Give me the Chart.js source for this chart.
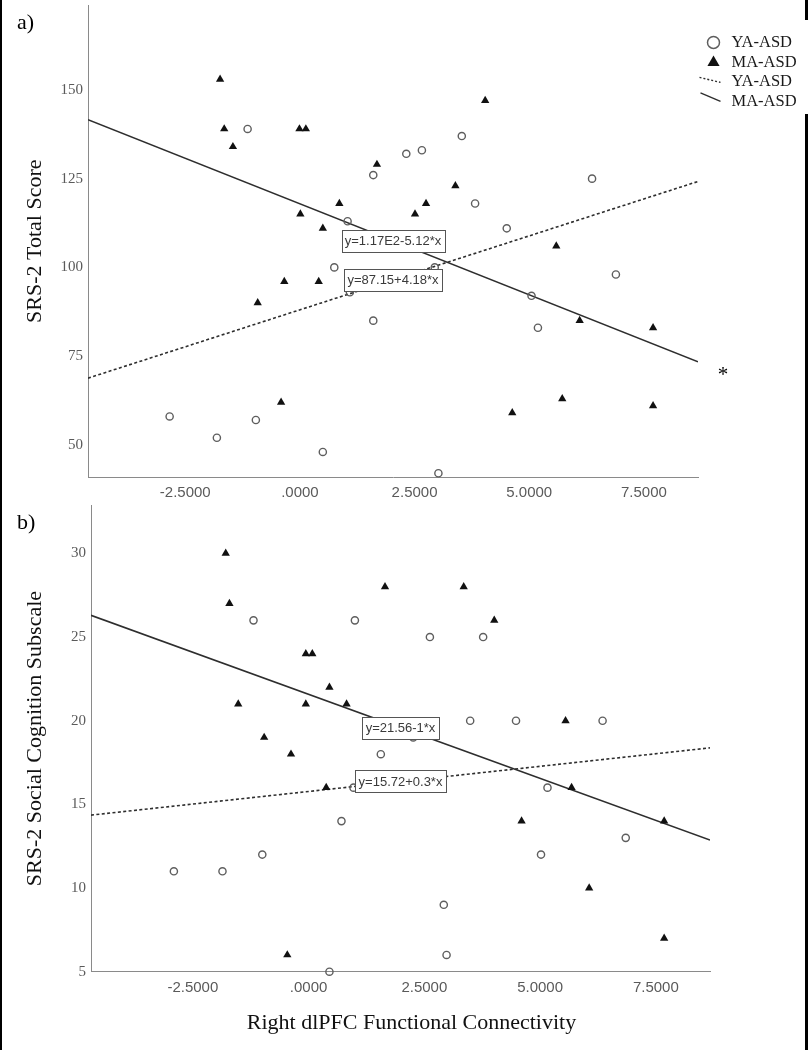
<!DOCTYPE html>
<html>
<head>
<meta charset="utf-8">
<title>SRS-2 vs Right dlPFC Functional Connectivity</title>
<script src="https://cdn.jsdelivr.net/npm/chart.js@4.4.1/dist/chart.umd.min.js"></script>
<style>
  html, body { margin: 0; padding: 0; background: #fff; }
  #page { position: relative; width: 808px; height: 1050px; overflow: hidden; background: #fff; }
  #page canvas { position: absolute; left: 0; }
  #chartA { top: 0; }
  #chartB { top: 500px; }
  .edge { position: absolute; background: #000; }
</style>
</head>
<body>
<div id="page">
  <canvas id="chartA" width="808" height="500" style="width:808px;height:500px"></canvas>
  <canvas id="chartB" width="808" height="550" style="width:808px;height:550px"></canvas>
  <div class="edge" style="left:0;top:0;width:2px;height:1050px"></div>
  <div class="edge" style="left:805px;top:0;width:3px;height:20px"></div>
  <div class="edge" style="left:805px;top:114px;width:3px;height:936px"></div>
</div>
<script>
// shared axis ticks
const xTickValues = [-2.5, 0, 2.5, 5, 7.5];
const xTickLabels = ['-2.5000', '.0000', '2.5000', '5.0000', '7.5000'];
const yTicksA = [50, 75, 100, 125, 150];
const yTicksB = [5, 10, 15, 20, 25, 30];
const groupNames = ['YA-ASD', 'MA-ASD'];

// a) SRS-2 Total Score
const yaXA = [-1.14, 1.60, 1.04, 3.53, 2.32, 2.66, 3.82, 6.37, 4.51, 0.75, 1.09, 1.60, -2.84, -1.81, -0.96, 0.50, 6.89, 5.05, 5.19, 3.02, 2.94];
const yaYA = [139, 126, 113, 137, 132, 133, 118, 125, 111, 100, 93, 85, 58, 52, 57, 48, 98, 92, 83, 42, 100];
const maXA = [-1.74, -1.65, -1.46, -0.01, 0.13, 1.68, 0.86, 0.01, 0.50, 4.04, 3.39, 2.75, 2.51, 5.59, -0.34, 0.41, -0.92, -0.41, 6.10, 7.70, 4.63, 5.72, 7.70];
const maYA = [153, 139, 134, 139, 139, 129, 118, 115, 111, 147, 123, 118, 115, 106, 96, 96, 90, 62, 85, 83, 59, 63, 61];
const yaFitXA = [-4.62, 8.68];
const yaFitYA = [68.8, 124.2];
const maFitXA = [-4.62, 8.68];
const maFitYA = [141.6, 73.4];
const fitTextA = ['y=87.15+4.18*x', 'y=1.17E2-5.12*x'];

// b) SRS-2 Social Cognition Subscale
const yaXB = [-1.19, 1.00, 1.56, 2.62, 3.77, 3.49, 4.48, 6.35, 2.26, 0.97, 0.71, -2.91, -1.86, -1.00, 0.45, 5.16, 6.85, 5.02, 2.92, 2.98];
const yaYB = [26, 26, 18, 25, 25, 20, 20, 20, 19, 16, 14, 11, 11, 12, 5, 16, 13, 12, 9, 6];
const maXB = [-1.79, -1.71, 1.65, -0.06, 0.08, 0.45, -1.52, -0.06, 0.82, -0.96, -0.38, 3.35, 4.01, 5.55, 0.38, -0.46, 5.68, 4.60, 7.68, 6.06, 7.68];
const maYB = [30, 27, 28, 24, 24, 22, 21, 21, 21, 19, 18, 28, 26, 20, 16, 6, 16, 14, 14, 10, 7];
const yaFitXB = [-4.70, 8.67];
const yaFitYB = [14.36, 18.38];
const maFitXB = [-4.70, 8.67];
const maFitYB = [26.3, 12.87];
const fitTextB = ['y=15.72+0.3*x', 'y=21.56-1*x'];

const serif = '"Liberation Serif", "Times New Roman", serif';
const sans = '"Liberation Sans", Arial, sans-serif';
const tickGrey = '#5a5a5a';
const axisGrey = '#8a8a8a';

const pts = (xs, ys) => xs.map((x, i) => ({ x: x, y: ys[i] }));

function makeDatasets(yaX, yaY, maX, maY, yaFx, yaFy, maFx, maFy) {
    return [
        {
            label: groupNames[0], data: pts(yaX, yaY), clip: false,
            pointStyle: 'circle', pointRadius: 3.6, pointBorderWidth: 1.4,
            pointBorderColor: '#5e5e5e', pointBackgroundColor: 'rgba(255,255,255,0)'
        },
        {
            label: groupNames[1], data: pts(maX, maY), clip: false,
            pointStyle: 'triangle', pointRadius: 4.8, pointBorderWidth: 0,
            pointBorderColor: '#111', pointBackgroundColor: '#111'
        },
        {
            label: groupNames[0], data: pts(yaFx, yaFy), showLine: true, pointRadius: 0,
            borderColor: '#2e2e2e', borderWidth: 1.6, borderDash: [3, 2.4]
        },
        {
            label: groupNames[1], data: pts(maFx, maFy), showLine: true, pointRadius: 0,
            borderColor: '#2e2e2e', borderWidth: 1.6
        }
    ];
}

// fit equation boxes, panel letters, legend, star
const figureExtras = {
    id: 'figureExtras',
    afterDatasetsDraw(chart, args, opts) {
        const ctx = chart.ctx;
        ctx.save();
        ctx.font = '13px ' + sans;
        ctx.textAlign = 'center';
        ctx.textBaseline = 'middle';
        opts.fits.forEach(f => {
            const p = chart.getDatasetMeta(f.dataset).data;
            const cx = (p[0].x + p[1].x) / 2;
            const cy = (p[0].y + p[1].y) / 2;
            const w = Math.round(ctx.measureText(f.text).width + 7);
            const h = 22;
            const bx = Math.round(cx - w / 2) + 0.5;
            const by = Math.round(cy - h / 2) + 0.5;
            ctx.fillStyle = '#fff';
            ctx.fillRect(bx, by, w, h);
            ctx.strokeStyle = '#555';
            ctx.lineWidth = 1;
            ctx.strokeRect(bx, by, w, h);
            ctx.fillStyle = '#3a3a3a';
            ctx.fillText(f.text, cx, cy + 1);
        });
        ctx.restore();
    },
    afterDraw(chart, args, opts) {
        const ctx = chart.ctx;
        const area = chart.chartArea;
        const ds = chart.data.datasets;
        ctx.save();
        ctx.fillStyle = '#000';
        ctx.textAlign = 'left';
        ctx.textBaseline = 'alphabetic';
        ctx.font = '22px ' + serif;
        ctx.fillText(opts.letter, 17, 29);

        if (opts.star) {
            const end = chart.getDatasetMeta(3).data[1];
            ctx.textAlign = 'center';
            ctx.font = '21px ' + serif;
            ctx.fillText('*', end.x + 25, end.y + 19);
        }

        if (opts.xTitle) {
            ctx.textAlign = 'center';
            ctx.fillStyle = '#111';
            ctx.font = '22px ' + serif;
            ctx.fillText(opts.xTitle, 411.5, chart.height - 21.5);
        }

        if (opts.legend) {
            const sx = area.right + 15.5;
            const tx = area.right + 33.5;
            const top = area.top;
            // circle
            ctx.beginPath();
            ctx.arc(sx, top + 37, 6, 0, Math.PI * 2);
            ctx.lineWidth = 1.5;
            ctx.strokeStyle = ds[0].pointBorderColor;
            ctx.stroke();
            // triangle
            const r = 7;
            const ty = top + 57;
            ctx.beginPath();
            ctx.moveTo(sx, ty - r);
            ctx.lineTo(sx + r * 0.866, ty + r * 0.5);
            ctx.lineTo(sx - r * 0.866, ty + r * 0.5);
            ctx.closePath();
            ctx.fillStyle = ds[1].pointBackgroundColor;
            ctx.fill();
            // dotted fit line
            ctx.strokeStyle = ds[2].borderColor;
            ctx.lineWidth = 1.4;
            ctx.setLineDash([2, 2]);
            ctx.beginPath();
            ctx.moveTo(sx - 14, top + 72);
            ctx.lineTo(sx + 7, top + 77);
            ctx.stroke();
            // solid fit line
            ctx.setLineDash([]);
            ctx.beginPath();
            ctx.moveTo(sx - 13, top + 87.5);
            ctx.lineTo(sx + 7, top + 96);
            ctx.stroke();

            ctx.fillStyle = '#1a1a1a';
            ctx.textAlign = 'left';
            ctx.font = '16.5px ' + serif;
            [ds[0], ds[1], ds[2], ds[3]].forEach((d, i) => {
                ctx.fillText(d.label, tx, top + [42, 62, 81, 100.3][i]);
            });
        }
        ctx.restore();
    }
};

function makeChart(id, cfg) {
    return new Chart(document.getElementById(id), {
        type: 'scatter',
        data: { datasets: cfg.datasets },
        options: {
            responsive: false,
            animation: false,
            events: [],
            layout: { padding: { left: 0, top: 3, right: cfg.padRight, bottom: 0 } },
            plugins: {
                legend: { display: false },
                tooltip: { enabled: false },
                figureExtras: cfg.extras
            },
            scales: {
                x: {
                    type: 'linear',
                    min: cfg.xMin,
                    max: cfg.xMax,
                    grid: { display: false, drawTicks: false },
                    border: { display: true, color: axisGrey, width: 1 },
                    afterBuildTicks: s => { s.ticks = xTickValues.map(v => ({ value: v })); },
                    ticks: {
                        autoSkip: false,
                        maxRotation: 0,
                        padding: 7,
                        color: tickGrey,
                        font: { family: sans, size: 15 },
                        callback: (v, i) => xTickLabels[i]
                    },
                    afterFit: s => { s.height = cfg.xHeight; s.paddingLeft = 0; s.paddingRight = 0; }
                },
                y: {
                    type: 'linear',
                    min: cfg.yMin,
                    max: cfg.yMax,
                    grid: { display: false, drawTicks: false },
                    border: { display: true, color: axisGrey, width: 1 },
                    afterBuildTicks: s => { s.ticks = cfg.yTicks.map(v => ({ value: v })); },
                    ticks: {
                        padding: 5,
                        color: tickGrey,
                        font: { family: serif, size: 15 }
                    },
                    title: {
                        display: true,
                        text: cfg.yTitle,
                        color: '#111',
                        font: { family: serif, size: 22 },
                        padding: { top: 22, bottom: 0 }
                    },
                    afterFit: s => { s.width = cfg.yWidth; s.paddingTop = 0; s.paddingBottom = 0; }
                }
            }
        },
        plugins: [figureExtras]
    });
}

makeChart('chartA', {
    datasets: makeDatasets(yaXA, yaYA, maXA, maYA, yaFitXA, yaFitYA, maFitXA, maFitYA),
    xMin: -4.62, xMax: 8.68, yMin: 40.95, yMax: 173.8,
    yTicks: yTicksA, yTitle: 'SRS-2 Total Score',
    yWidth: 88, xHeight: 23, padRight: 110,
    extras: {
        letter: 'a)', star: true, legend: true, xTitle: '',
        fits: [{ dataset: 2, text: fitTextA[0] }, { dataset: 3, text: fitTextA[1] }]
    }
});

makeChart('chartB', {
    datasets: makeDatasets(yaXB, yaYB, maXB, maYB, yaFitXB, yaFitYB, maFitXB, maFitYB),
    xMin: -4.70, xMax: 8.67, yMin: 5, yMax: 32.87,
    yTicks: yTicksB, yTitle: 'SRS-2 Social Cognition Subscale',
    yWidth: 91, xHeight: 78.3, padRight: 98,
    extras: {
        letter: 'b)', star: false, legend: false,
        xTitle: 'Right dlPFC Functional Connectivity',
        fits: [{ dataset: 2, text: fitTextB[0] }, { dataset: 3, text: fitTextB[1] }]
    }
});
</script>
</body>
</html>
